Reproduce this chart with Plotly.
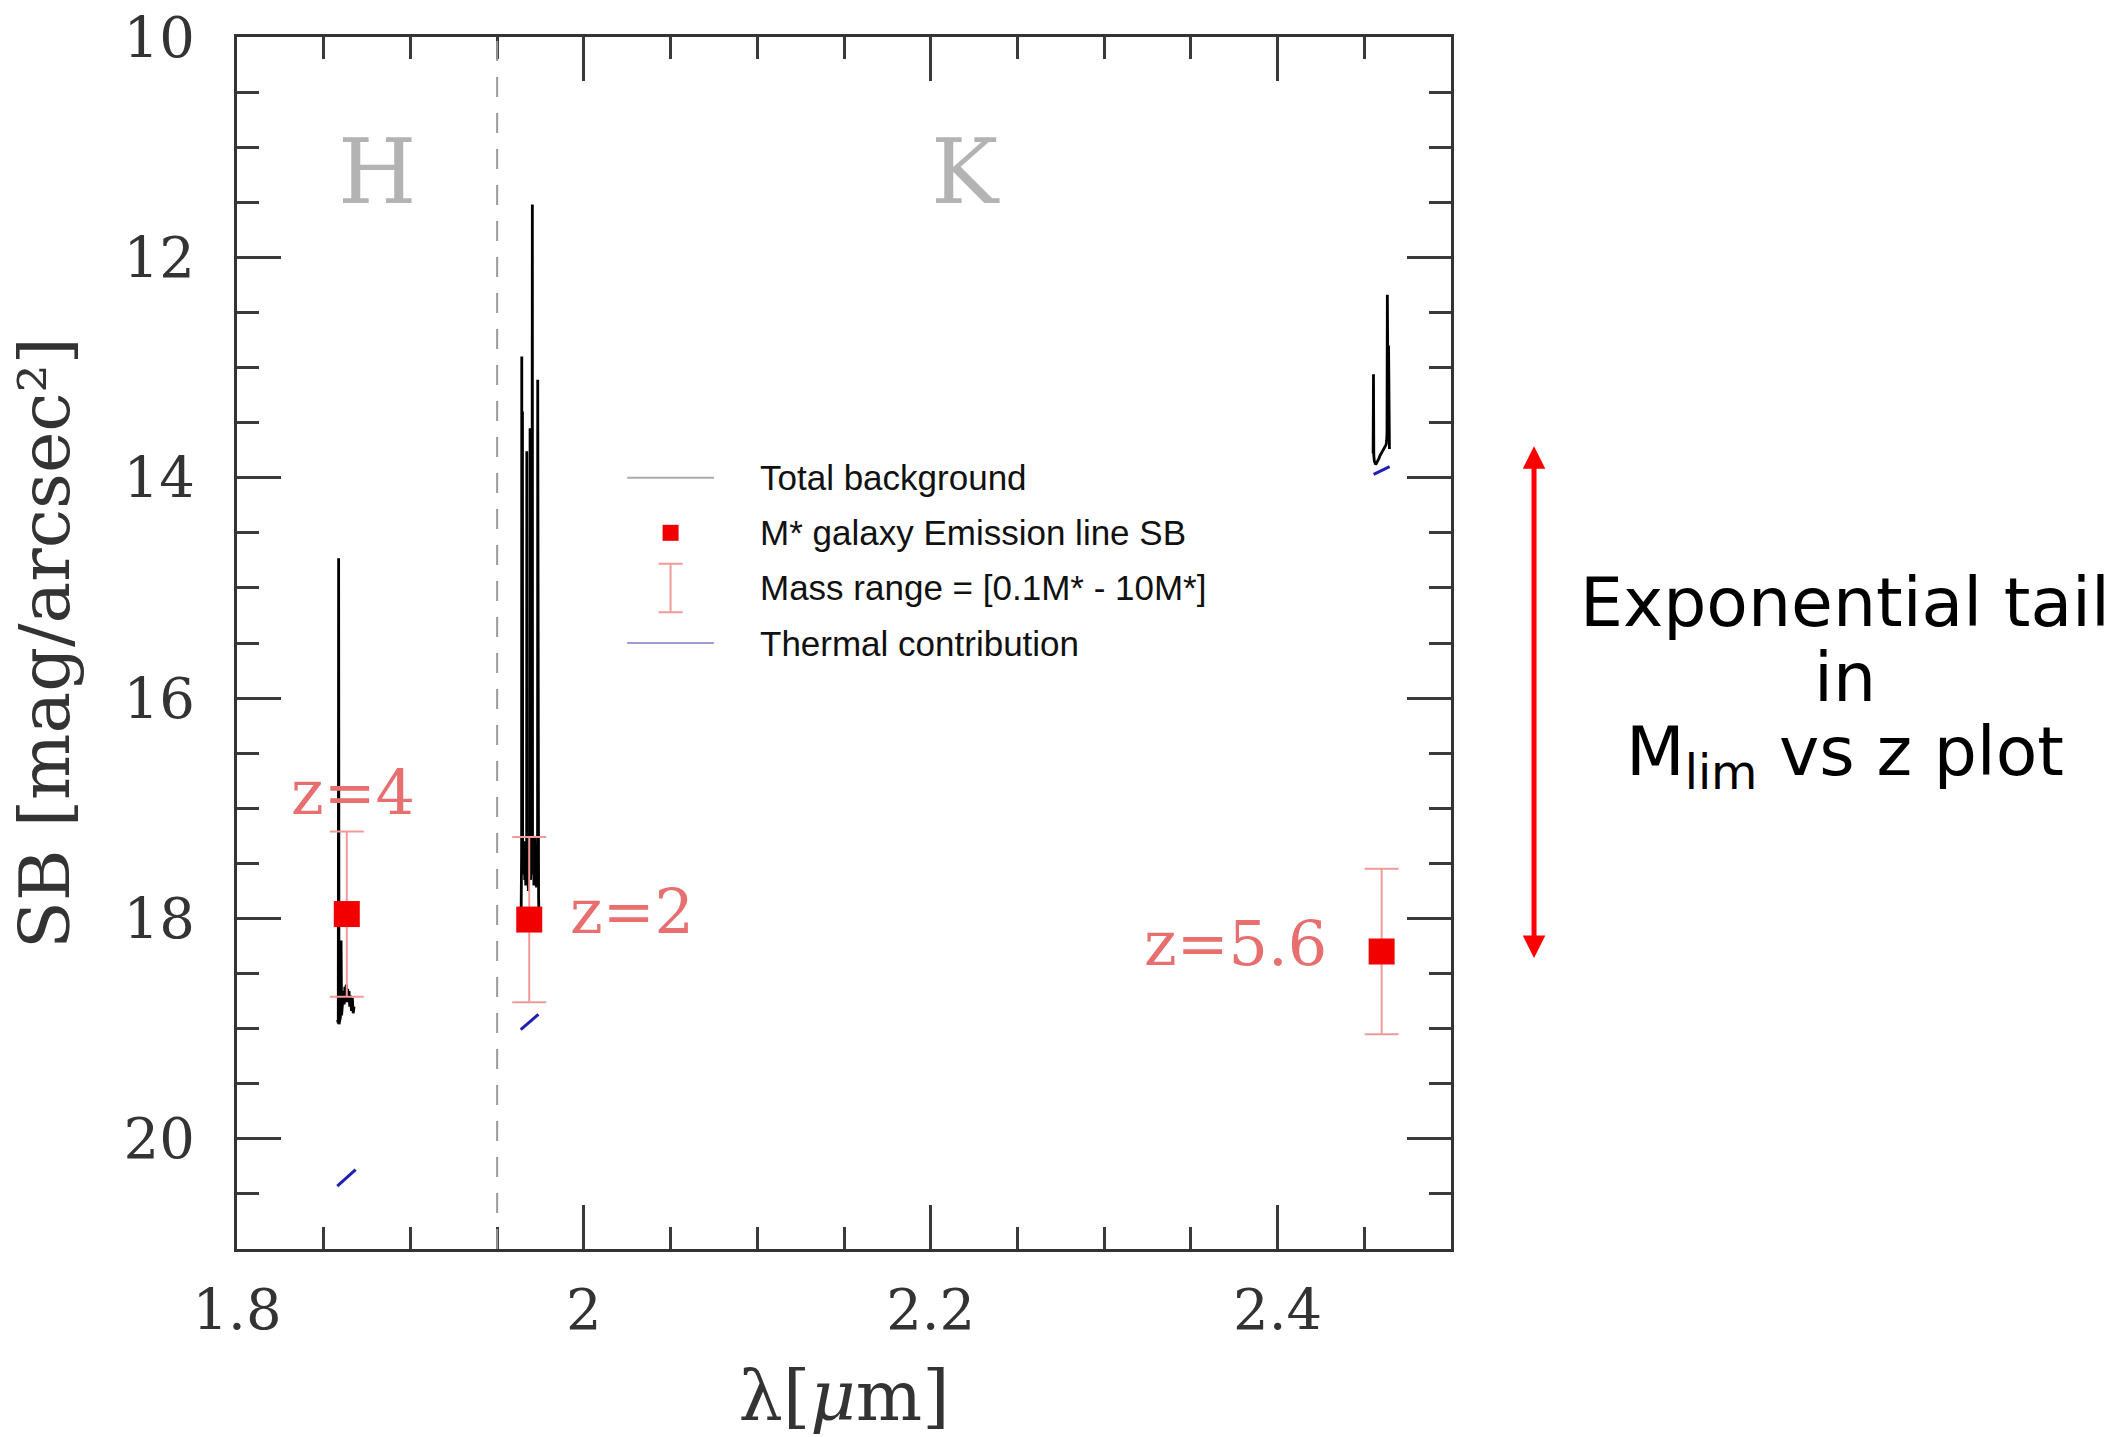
import plotly.graph_objects as go

# ---------------------------------------------------------------------------
# Sky background spectra (lambda in micron, SB in mag/arcsec^2)
# ---------------------------------------------------------------------------
# H-band window around the z=4 emission line
lam_bg_h = [1.8580, 1.8584, 1.8586, 1.8588, 1.8592, 1.8596, 1.8600, 1.8603,
            1.8606, 1.8610, 1.8614, 1.8618, 1.8622, 1.8626, 1.8630, 1.8634,
            1.8638, 1.8642, 1.8646, 1.8650, 1.8655, 1.8660, 1.8665, 1.8670,
            1.8675]
sb_bg_h = [18.92, 18.95, 14.73, 18.96, 18.93, 18.90, 18.20, 18.88,
           18.82, 18.74, 18.66, 18.78, 18.62, 18.70, 18.60, 18.76,
           18.64, 18.72, 18.66, 18.80, 18.70, 18.84, 18.72, 18.86,
           18.80]

# K-band window around the z=2 emission line (dense OH forest)
lam_bg_z2 = [1.9634, 1.9638, 1.9641, 1.9642, 1.9643, 1.9645, 1.9646, 1.9647,
             1.9650, 1.9653, 1.9656, 1.9659, 1.9662, 1.9665, 1.9668, 1.9670,
             1.9671, 1.9672, 1.9676, 1.9680, 1.9684, 1.9688, 1.9690, 1.9691,
             1.9693, 1.9695, 1.9696, 1.9700, 1.9703, 1.9704, 1.9708, 1.9712,
             1.9716, 1.9720, 1.9724, 1.9727, 1.9730, 1.9733, 1.9734, 1.9735,
             1.9737, 1.9739, 1.9742]
sb_bg_z2 = [18.05, 18.03, 17.40, 12.90, 17.45, 17.30, 13.40, 17.50,
            17.35, 17.60, 17.30, 17.65, 17.40, 17.70, 17.35, 17.52,
            13.76, 17.56, 17.38, 17.75, 17.40, 17.62, 13.55, 17.60,
            17.65, 14.40, 17.55, 17.60, 11.52, 17.58, 17.30, 17.70,
            17.26, 17.65, 17.40, 17.72, 17.35, 17.60, 13.11, 17.50,
            17.00, 17.80, 18.05]

# K-band window around the z=5.6 emission line
lam_bg_k = [2.4551, 2.4553, 2.4555, 2.4558, 2.4562, 2.4566, 2.4570, 2.4574,
            2.4578, 2.4582, 2.4586, 2.4590, 2.4594, 2.4598, 2.4602, 2.4606,
            2.4610, 2.4614, 2.4618, 2.4622, 2.4626, 2.4629, 2.4631, 2.4633,
            2.4635, 2.4637, 2.4638, 2.4640, 2.4641, 2.4643, 2.4645]
sb_bg_k = [13.78, 13.06, 13.80, 13.85, 13.87, 13.88, 13.87, 13.86,
           13.84, 13.83, 13.82, 13.80, 13.79, 13.78, 13.77, 13.76,
           13.75, 13.74, 13.73, 13.72, 13.70, 13.66, 13.60, 12.34,
           13.62, 12.49, 13.64, 12.80, 13.68, 13.10, 13.74]

# Thermal contribution over the same windows
lam_th_h = [1.8578, 1.8684]
sb_th_h = [20.43, 20.28]
lam_th_z2 = [1.9636, 1.9738]
sb_th_z2 = [19.01, 18.87]
lam_th_k = [2.4554, 2.4646]
sb_th_k = [13.97, 13.90]

# M* galaxy emission-line SB and the 0.1M*-10M* mass range
gal_lam = [1.8633, 1.9685, 2.4600]
gal_sb = [17.96, 18.01, 18.30]
gal_err = [0.75, 0.75, 0.75]
gal_z = ["4", "2", "5.6"]
z_label_lam = [1.867, 2.028, 2.376]
z_label_sb = [16.86, 17.94, 18.23]

# Photometric bands and their boundary
band_names = ["H", "K"]
band_lam = [1.881, 2.220]
band_label_sb = 11.22
band_edge = 1.95

# In-plot key (rows placed in data units)
key_labels = ["Total background", "M* galaxy Emission line SB",
              "Mass range = [0.1M* - 10M*]", "Thermal contribution"]
key_sb = [14.0, 14.5, 15.0, 15.5]
key_lam_line = [2.025, 2.075]
key_lam_sym = 2.050
key_lam_text = 2.1005

# Span highlighted on the right (background vs. z=5.6 galaxy)
arrow_sb = [13.70, 18.36]
note_lines = ["Exponential tail", "in", "M<sub>lim</sub> vs z plot"]
note_sb = [15.13, 15.81, 16.53]

BG = "#000000"
THERM = "#1f1fb8"
GAL = "#f20000"
ERR = "#f19a9a"
ZTXT = "#e76f6f"
SERIF = "DejaVu Serif"
SANS = "Liberation Sans"

fig = go.Figure()

for lam, sb in [(lam_bg_h, sb_bg_h), (lam_bg_z2, sb_bg_z2), (lam_bg_k, sb_bg_k)]:
    fig.add_trace(go.Scatter(x=lam, y=sb, mode="lines",
                             line=dict(color=BG, width=2.8),
                             name="Total background", showlegend=False))

for lam, sb in [(lam_th_h, sb_th_h), (lam_th_z2, sb_th_z2), (lam_th_k, sb_th_k)]:
    fig.add_trace(go.Scatter(x=lam, y=sb, mode="lines",
                             line=dict(color=THERM, width=3),
                             name="Thermal contribution", showlegend=False))

fig.add_trace(go.Scatter(
    x=gal_lam, y=gal_sb, mode="markers",
    marker=dict(symbol="square", size=26, color=GAL, line=dict(width=0)),
    error_y=dict(type="data", array=gal_err, color=ERR, thickness=2, width=17),
    name="M* galaxy Emission line SB", showlegend=False))

# Key samples
fig.add_trace(go.Scatter(x=key_lam_line, y=[key_sb[0]] * 2, mode="lines",
                         line=dict(color="#a9a9b2", width=2), showlegend=False))
fig.add_trace(go.Scatter(x=[key_lam_sym], y=[key_sb[1]], mode="markers",
                         marker=dict(symbol="square", size=16, color=GAL),
                         showlegend=False))
fig.add_trace(go.Scatter(x=[key_lam_sym], y=[key_sb[2]], mode="markers",
                         marker=dict(size=1, opacity=0),
                         error_y=dict(type="data", array=[0.22], color=ERR,
                                      thickness=2, width=12),
                         showlegend=False))
fig.add_trace(go.Scatter(x=key_lam_line, y=[key_sb[3]] * 2, mode="lines",
                         line=dict(color="#9c9cd6", width=2), showlegend=False))

annotations = []
for txt, sb in zip(key_labels, key_sb):
    annotations.append(dict(x=key_lam_text, y=sb, xref="x", yref="y", text=txt,
                            showarrow=False, xanchor="left", yanchor="middle",
                            font=dict(family=SANS, size=35, color="#111111")))

for name, lam in zip(band_names, band_lam):
    annotations.append(dict(x=lam, y=band_label_sb, xref="x", yref="y", text=name,
                            showarrow=False, xanchor="center", yanchor="middle",
                            font=dict(family=SERIF, size=90, color="#b3b3b3")))

for z, lam, sb in zip(gal_z, z_label_lam, z_label_sb):
    annotations.append(dict(x=lam, y=sb, xref="x", yref="y", text="z=" + z,
                            showarrow=False, xanchor="center", yanchor="middle",
                            font=dict(family=SERIF, size=62, color=ZTXT)))

# Double-headed arrow in the right margin
annotations.append(dict(x=1.0684, y=arrow_sb[1], xref="paper", yref="y",
                        ax=0, ay=arrow_sb[0], axref="pixel", ayref="y",
                        text="", showarrow=True, arrowside="end+start",
                        arrowhead=2, startarrowhead=2, arrowsize=0.9,
                        startarrowsize=0.9, arrowwidth=5, arrowcolor="#ff0000",
                        standoff=0, startstandoff=0))

for txt, sb in zip(note_lines, note_sb):
    annotations.append(dict(x=1.3246, y=sb, xref="paper", yref="y", text=txt,
                            showarrow=False, xanchor="center", yanchor="middle",
                            font=dict(family="DejaVu Sans", size=68, color="#000000")))

fig.add_shape(type="line", x0=band_edge, x1=band_edge, y0=0, y1=1,
              xref="x", yref="paper",
              line=dict(color="#9a9a9a", width=2, dash="20px,16px"))

axis_common = dict(
    automargin=False,
    showgrid=False, zeroline=False, showline=True, linecolor="#333333",
    linewidth=3, mirror="allticks", ticks="inside", ticklen=44, tickwidth=2.5,
    tickcolor="#3a3a3a",
    tickfont=dict(family=SERIF, size=56, color="#333333"),
    title_font=dict(family=SERIF, size=70, color="#333333"),
)

fig.update_xaxes(
    range=[1.8, 2.5], tick0=1.8, dtick=0.2,
    minor=dict(dtick=0.05, ticks="inside", ticklen=22, tickwidth=2.5,
               tickcolor="#3a3a3a", showgrid=False),
    ticklabelstandoff=10,
    title=dict(text="λ[<i>μ</i>m]", standoff=36, font=dict(size=72)),
    **axis_common)
fig.update_yaxes(
    range=[21, 10], tick0=10, dtick=2,
    minor=dict(dtick=0.5, ticks="inside", ticklen=22, tickwidth=2.5,
               tickcolor="#3a3a3a", showgrid=False),
    ticklabelstandoff=28,
    title=dict(text="SB [mag/arcsec²]", standoff=32),
    **axis_common)

fig.update_layout(
    width=2127, height=1437,
    margin=dict(l=237, r=676, t=37, b=188, pad=0),
    paper_bgcolor="white", plot_bgcolor="white",
    showlegend=False, hovermode=False,
    annotations=annotations,
)

fig.write_html("out.html", config={"displayModeBar": False})
